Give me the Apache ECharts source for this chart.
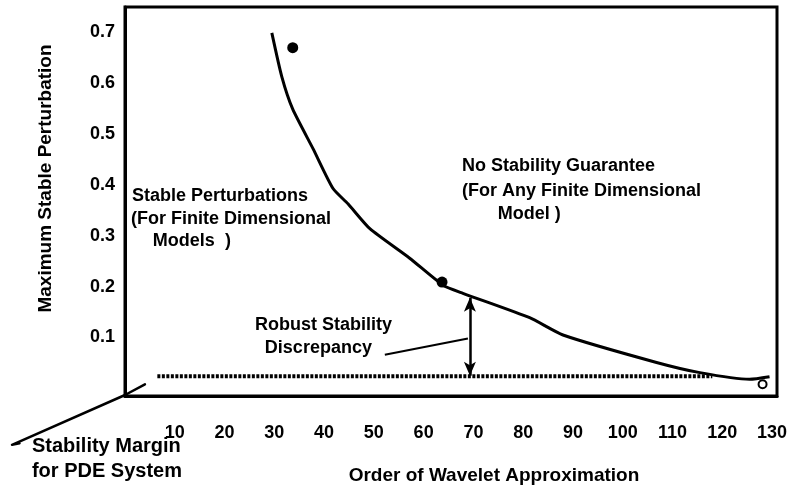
<!DOCTYPE html>
<html>
<head>
<meta charset="utf-8">
<script src="https://cdn.jsdelivr.net/npm/echarts@6/dist/echarts.min.js"></script>
<style>
  html, body { margin: 0; padding: 0; background: #fff; }
  #chart { width: 791px; height: 490px; }
</style>
</head>
<body>
<div id="chart"></div>
<script>
// tick labels
var xTicks = [10, 20, 30, 40, 50, 60, 70, 80, 90, 100, 110, 120, 130];
var yTicks = [0.1, 0.2, 0.3, 0.4, 0.5, 0.6, 0.7];

// stability bound curve
var curveX = [29.5, 31.5, 33.7, 37.8, 41.8, 44.8, 49.2, 57.2, 63.9, 67.9, 81.3, 88, 106.8, 115.5, 125.5, 129.5];
var curveY = [0.699, 0.613, 0.549, 0.471, 0.393, 0.363, 0.314, 0.256, 0.203, 0.187, 0.139, 0.105, 0.051, 0.031, 0.018, 0.023];

// computed points
var dotX = [33.7, 63.7];
var dotY = [0.67, 0.209];
var openX = [128.1];
var openY = [0.008];

// stability margin of the PDE system
var marginX = [6.5, 118];
var marginY = [0.024, 0.024];

// discrepancy arrow and its leader
var arrowX = 69.3;
var arrowY = [0.025, 0.178];
var leaderX = [52.2, 68.9];
var leaderY = [0.066, 0.098];

// third (oblique) axis
var obliqueX = [-21.2, -22.7, 0, 4];
var obliqueY = [-0.108, -0.111, -0.013, 0.008];

// annotation texts
var noteText = ['Stable Perturbations', '(For Finite Dimensional', 'Models  )',
  'No Stability Guarantee', '(For Any Finite Dimensional', 'Model )',
  'Robust Stability', 'Discrepancy', 'Stability Margin', 'for PDE System'];
var noteX = [1.4, 1.2, 5.6, 67.7, 67.7, 74.9, 26.1, 28.1, -18.7, -18.7];
var noteY = [0.379, 0.334, 0.289, 0.4375, 0.389, 0.342, 0.125, 0.080, -0.115, -0.164];

var FONT = '"Liberation Sans", Arial, sans-serif';

function pairs(xs, ys) {
    return xs.map(function(x, i) { return [x, ys[i]]; });
}

var notes = noteText.map(function(t, i) {
    return {
        value: [noteX[i], noteY[i]],
        label: { fontSize: i >= 8 ? 20 : 18 }
    };
});

var chart = echarts.init(document.getElementById('chart'));
var option = {
    backgroundColor: '#fff',
    animation: false,
    grid: {
        left: 125, right: 14, top: 7, bottom: 91,
        show: true, borderColor: '#000', borderWidth: 3
    },
    xAxis: {
        type: 'value', min: 0, max: 131,
        name: 'Order of Wavelet Approximation',
        nameLocation: 'middle', nameGap: 70,
        nameTextStyle: { fontFamily: FONT, fontWeight: 'bold', fontSize: 19, color: '#000', padding: [0, 0, 0, 86] },
        axisLine: { onZero: false, lineStyle: { color: '#000', width: 3 } },
        axisTick: { show: false },
        splitLine: { show: false },
        axisLabel: {
            customValues: xTicks, margin: 28,
            fontFamily: FONT, fontWeight: 'bold', fontSize: 18, color: '#000'
        }
    },
    yAxis: {
        type: 'value', min: -0.015, max: 0.75,
        name: 'Maximum Stable Perturbation',
        nameLocation: 'middle', nameGap: 70,
        nameTextStyle: { fontFamily: FONT, fontWeight: 'bold', fontSize: 19, color: '#000', padding: [0, 0, 0, 46] },
        axisLine: { onZero: false, lineStyle: { color: '#000', width: 3 } },
        axisTick: { show: false },
        splitLine: { show: false },
        axisLabel: {
            customValues: yTicks, margin: 10,
            formatter: function(v) { return v.toFixed(1); },
            fontFamily: FONT, fontWeight: 'bold', fontSize: 18, color: '#000'
        }
    },
    series: [{
        type: 'line', silent: true, smooth: 0.2, symbol: 'none',
        lineStyle: { color: '#000', width: 3 },
        data: pairs(curveX, curveY)
    }, {
        type: 'line', silent: true, symbol: 'none',
        lineStyle: { color: '#000', width: 4, type: [3, 1.5] },
        data: pairs(marginX, marginY),
        markLine: {
            silent: true, symbol: ['arrow', 'arrow'], symbolSize: [9, 14],
            label: { show: false },
            lineStyle: { color: '#000', width: 2.5, type: 'solid' },
            data: [[{ coord: [arrowX, arrowY[0]] }, { coord: [arrowX, arrowY[1]] }]]
        }
    }, {
        type: 'line', silent: true, symbol: 'none',
        lineStyle: { color: '#000', width: 2 },
        data: pairs(leaderX, leaderY)
    }, {
        type: 'custom', silent: true,
        data: [[0, 0]],
        renderItem: function(params, api) {
            var pts = obliqueX.map(function(x, i) { return api.coord([x, obliqueY[i]]); });
            return {
                type: 'polyline',
                shape: { points: pts },
                style: { stroke: '#000', lineWidth: 2.5, fill: null, lineJoin: 'round', lineCap: 'round' }
            };
        }
    }, {
        type: 'scatter', silent: true, symbol: 'circle', symbolSize: 11,
        itemStyle: { color: '#000', opacity: 1 },
        data: pairs(dotX, dotY)
    }, {
        type: 'scatter', silent: true, symbol: 'emptyCircle', symbolSize: 8, clip: false,
        itemStyle: { color: '#000', borderColor: '#000', borderWidth: 2.5, opacity: 1 },
        data: pairs(openX, openY)
    }, {
        type: 'scatter', silent: true, symbolSize: 0, clip: false,
        itemStyle: { opacity: 1 },
        label: {
            show: true, position: 'right', distance: 0,
            align: 'left', verticalAlign: 'middle',
            fontFamily: FONT, fontWeight: 'bold', fontSize: 18, color: '#000',
            formatter: function(p) { return noteText[p.dataIndex]; }
        },
        data: notes
    }]
};
chart.setOption(option);
</script>
</body>
</html>
